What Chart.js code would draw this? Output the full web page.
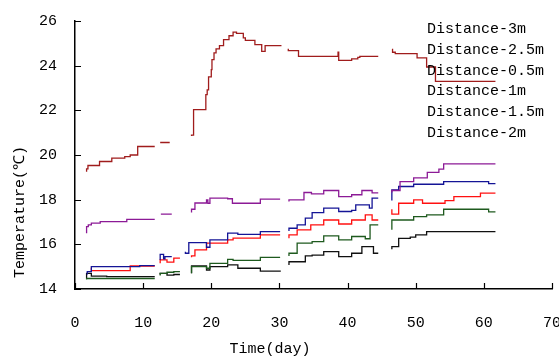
<!DOCTYPE html>
<html>
<head>
<meta charset="utf-8">
<script src="https://cdn.jsdelivr.net/npm/chart.js@4.4.1/dist/chart.umd.min.js"></script>
<style>
	html, body { margin: 0; padding: 0; background: #fff; }
	canvas { display: block; }
</style>
</head>
<body>
<canvas id="chart_temp" width="559" height="358"></canvas>
<script>
// [day, temperature] -- null temperature = gap in the record
var dist_3m = [
	[1.7,19.25],[1.9,19.38],[3.6,19.53],[5.4,19.71],[7.3,19.86],[8.1,19.93],[9.2,20.0],[10.4,20.38],[11.7,20.38],[12.1,null],
	[12.5,20.56],[13.9,20.56],[15.5,null],
	[17.1,20.85],[17.4,20.89],[19.2,22.03],[19.4,22.7],[19.6,22.92],[20.0,23.5],[20.1,23.82],[20.4,24.27],[20.7,24.57],[21.2,24.75],
	[21.8,24.9],[22.6,25.17],[23.2,25.34],[23.7,25.5],[24.7,25.45],[25.0,25.24],[26.4,25.13],[27.4,24.94],[27.9,24.64],[28.3,24.9],[30.3,24.9],[30.8,null],
	[31.3,24.76],[32.8,24.67],[38.6,24.42],[38.7,24.61],[40.6,24.24],[41.5,24.3],[41.8,24.37],[43.8,24.42],[44.5,24.42],[45.5,null],
	[46.6,24.76],[47.0,24.6],[50.2,24.54],[51.6,24.35],[52.9,23.94],[59.5,23.3],[61.7,23.3]
];
var dist_2_5m = [
	[1.7,16.5],[1.95,16.79],[2.4,16.87],[3.7,16.95],[7.6,17.02],[9.5,17.12],[11.7,17.12],[12.1,null],
	[12.6,17.35],[14.2,17.35],[15,null],
	[17.1,17.42],[17.6,17.57],[19.3,17.85],[19.5,17.99],[19.8,17.84],[22.4,18.07],[23.1,18.04],[27.2,17.84],[27.9,18.02],[30.1,18.02],[30.7,null],
	[31.4,17.92],[33.6,17.99],[34.7,18.32],[36.5,18.26],[38.7,18.41],[40.6,18.14],[42.1,18.22],[43.6,18.41],[44.2,18.3],[44.5,18.3],[45.5,null],
	[46.5,18.32],[47.7,18.41],[49.7,18.81],[51.7,18.98],[53.4,19.22],[54.1,19.37],[59.2,19.6],[61.7,19.6]
];
var dist_0_5m = [
	[1.8,14.65],[2.4,14.78],[9.5,15.0],[10.2,15.05],[11.7,15.05],[12.1,null],
	[12.5,15.3],[13.0,15.55],[13.2,15.35],[13.6,15.45],[14.2,15.45],[15.8,null],
	[16.2,15.67],[16.7,15.6],[19.3,16.08],[19.8,15.87],[22.4,16.2],[23.9,16.5],[27.2,16.45],[28.7,16.57],[30.1,16.57],[30.7,null],
	[31.4,16.6],[32.6,16.72],[33.8,16.87],[34.8,17.17],[36.5,17.42],[38.7,17.62],[40.6,17.47],[41.2,17.52],[43.2,17.77],[43.6,17.62],[44.2,18.07],[44.5,18.07],[45.5,null],
	[46.5,17.96],[47.5,18.44],[49.7,18.59],[54.1,18.69],[60.7,18.81],[61.0,18.72],[61.7,18.72]
];
var dist_1m = [
	[2.4,14.95],[8.1,14.82],[9.5,15.03],[11.7,15.03],[12.1,null],
	[12.5,15.15],[13.5,15.3],[14.5,15.2],[15.0,15.38],[15.4,15.38],[16,null],
	[17.1,15.42],[17.6,15.48],[19.3,15.75],[22.4,16.05],[23.2,16.2],[27.2,16.28],[28.7,16.42],[30.1,16.42],[30.7,null],
	[31.4,16.27],[32.6,16.42],[34.6,16.65],[36.5,16.87],[38.7,17.09],[40.6,16.91],[42.6,17.09],[43.6,17.32],[44.3,17.09],[44.5,17.09],[45.5,null],
	[46.5,17.57],[47.5,17.35],[49.7,17.84],[51.0,17.99],[54.3,17.84],[55.6,17.96],[59.5,18.14],[60.7,18.29],[61.7,18.29]
];
var dist_1_5m = [
	[1.7,14.43],[9.5,14.47],[11.7,14.47],[12.1,null],
	[12.5,14.6],[13.5,14.7],[14.5,14.75],[15.4,14.78],[16,null],
	[17.1,14.7],[19.3,15.0],[19.8,14.93],[22.4,15.15],[23.2,15.33],[27.2,15.28],[28.7,15.42],[30.1,15.42],[30.7,null],
	[31.4,15.48],[32.6,15.6],[34.8,16.05],[36.5,16.12],[38.7,16.38],[40.6,16.2],[42.6,16.35],[43.3,16.25],[44.3,16.87],[44.5,16.87],[45.5,null],
	[46.5,16.65],[49.7,17.09],[51.6,17.24],[54.1,17.32],[60.7,17.57],[61.3,17.45],[61.7,17.45]
];
var dist_2m = [
	[1.7,14.48],[2.4,14.7],[4.65,14.58],[9.5,14.55],[11.7,14.55],[12.1,null],
	[12.5,14.65],[13.5,14.7],[14.5,14.62],[15.4,14.65],[16,null],
	[17.1,14.7],[19.3,15.03],[19.8,14.85],[22.4,15.0],[23.9,15.08],[27.2,14.93],[29.9,14.8],[30.2,14.8],[30.7,null],
	[31.4,15.08],[33.8,15.22],[34.8,15.48],[36.5,15.52],[38.7,15.67],[40.6,15.45],[42.1,15.6],[43.8,15.9],[44.3,15.6],[44.5,15.6],[45.5,null],
	[46.5,15.78],[47.5,15.9],[49.2,16.27],[50.0,16.32],[51.6,16.42],[60.7,16.57],[61.7,16.57]
];

var series_labels = ["Distance-3m", "Distance-2.5m", "Distance-0.5m", "Distance-1m", "Distance-1.5m", "Distance-2m"];
var series_data = [dist_3m, dist_2_5m, dist_0_5m, dist_1m, dist_1_5m, dist_2m];
var series_colors = ["#a01c1c", "#8c1a96", "#141496", "#ff1010", "#1e5a1e", "#101010"];

var x_ticks = [0, 10, 20, 30, 40, 50, 60, 70];
var y_ticks = [14, 16, 18, 20, 22, 24, 26];

var font_name = "'Liberation Mono', 'DejaVu Sans Mono', monospace";

function to_points(list)
{
	return list.map(function(p){ return { x: p[0], y: p[1] }; });
}

//inåtriktade ticks, textlegend och axeltitlar
var decor = {
	id: 'decor',
	afterDraw: function(chart)
	{
		var ctx = chart.ctx;
		var xs = chart.scales.x;
		var ys = chart.scales.y;
		var area = chart.chartArea;

		ctx.save();
		ctx.strokeStyle = "#000";
		ctx.lineWidth = 1.2;
		ctx.beginPath();
		x_ticks.forEach(function(v){
			var px = Math.round(xs.getPixelForValue(v)) + 0.5;
			ctx.moveTo(px, area.bottom);
			ctx.lineTo(px, area.bottom - 6);
		});
		y_ticks.forEach(function(v){
			var py = Math.round(ys.getPixelForValue(v)) + 0.5;
			ctx.moveTo(area.left, py);
			ctx.lineTo(area.left + 6, py);
		});
		ctx.stroke();

		ctx.fillStyle = "#000";
		ctx.font = "15px " + font_name;
		ctx.textBaseline = "middle";
		ctx.textAlign = "left";
		series_labels.forEach(function(label, i){
			ctx.fillText(label, 427, 29 + i * 20.8);
		});

		ctx.textAlign = "center";
		ctx.fillText("Time(day)", 270, 349);

		ctx.translate(20, 212);
		ctx.rotate(-Math.PI / 2);
		ctx.fillText("Temperature(\u2103)", 0, 0);
		ctx.restore();
	}
};

var datasets = series_data.map(function(list, i){
	return {
		label: series_labels[i],
		data: to_points(list),
		borderColor: series_colors[i],
		borderWidth: 1.3,
		pointRadius: 0,
		stepped: 'after',
		spanGaps: false,
		fill: false
	};
});

new Chart(document.getElementById("chart_temp"), {
	type: 'line',
	data: { datasets: datasets },
	options: {
		responsive: false,
		animation: false,
		devicePixelRatio: 1,
		layout: { padding: { top: 21, right: 7, left: 0, bottom: 0 } },
		plugins: {
			legend: { display: false },
			tooltip: { enabled: false }
		},
		scales: {
			x: {
				type: 'linear',
				min: 0,
				max: 70,
				grid: { display: false },
				border: { display: true, color: "#000", width: 1.5 },
				afterBuildTicks: function(scale){ scale.ticks = x_ticks.map(function(v){ return { value: v }; }); },
				afterFit: function(scale){
					scale.height = 69;
					scale.paddingLeft = 0;
					scale.paddingRight = 0;
				},
				ticks: { color: "#000", padding: 17, maxRotation: 0, font: { family: font_name, size: 15 } }
			},
			y: {
				type: 'linear',
				min: 14,
				max: 26,
				grid: { display: false },
				border: { display: true, color: "#000", width: 1.5 },
				afterBuildTicks: function(scale){ scale.ticks = y_ticks.map(function(v){ return { value: v }; }); },
				afterFit: function(scale){
					scale.width = 75;
					scale.paddingTop = 0;
					scale.paddingBottom = 0;
				},
				ticks: { color: "#000", padding: 10, font: { family: font_name, size: 15 } }
			}
		}
	},
	plugins: [decor]
});
</script>
</body>
</html>
